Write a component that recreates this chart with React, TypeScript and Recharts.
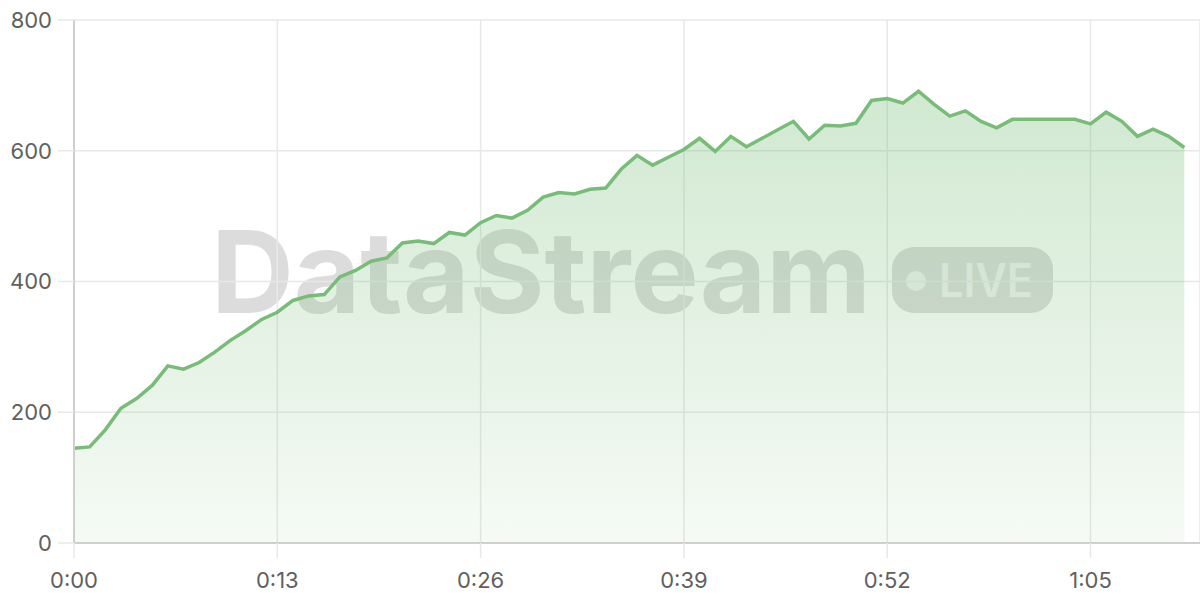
import React from 'react';
import { AreaChart, Area, XAxis, YAxis, CartesianGrid } from 'recharts';

// one reading per second, 0:00 .. 1:11
const values = [
  145, 147, 173, 206, 221, 241, 271, 266, 276, 292, 310, 325,
  342, 353, 371, 378, 380, 407, 417, 431, 436, 459, 462, 458,
  475, 471, 490, 501, 497, 509, 529, 536, 534, 541, 543, 572,
  593, 578, 590, 602, 619, 599, 622, 606, 619, 632, 645, 618,
  639, 638, 642, 677, 680, 673, 691, 671, 653, 661, 645, 635,
  648, 648, 648, 648, 648, 641, 659, 645, 622, 633, 622, 605,
];
const xTicks = [0, 13, 26, 39, 52, 65];
const yTicks = [0, 200, 400, 600, 800];

const data = values.map((v, i) => ({ t: i, value: v }));

const fmtTime = (s: number) => `${Math.floor(s / 60)}:${String(s % 60).padStart(2, '0')}`;

const LINE = '#77bc77';
const FONT = 'Inter, "Noto Sans", sans-serif';

const Watermark: React.FC = () => (
  <svg width={1200} height={600} style={{ position: 'absolute', left: 0, top: 0 }}>
    <text x={211} y={313} fontFamily={FONT} fontWeight={700} fontSize={114}
      fill="#dcdcdc" textLength={660} lengthAdjust="spacingAndGlyphs">DataStream</text>
    <rect x={892} y={247} width={161} height={66} rx={22} fill="#dcdcdc" />
    <circle cx={916} cy={281} r={10} fill="#f2f2f2" />
    <text x={939} y={297} fontFamily={FONT} fontWeight={600} fontSize={46}
      fill="#f2f2f2" textLength={94} lengthAdjust="spacingAndGlyphs">LIVE</text>
  </svg>
);

export default function App() {
  return (
    <div style={{ position: 'fixed', left: 0, top: 0, width: 1200, height: 600, background: '#fff' }}>
      <Watermark />
      <div style={{ position: 'absolute', left: 0, top: 0 }}>
        <AreaChart width={1200} height={600} data={data}
          margin={{ top: 20, right: 0, bottom: 0, left: 0 }}>
          <defs>
            <linearGradient id="fillGreen" x1="0" y1="0" x2="0" y2="1">
              <stop offset="0%" stopColor={LINE} stopOpacity={0.34} />
              <stop offset="100%" stopColor={LINE} stopOpacity={0.07} />
            </linearGradient>
          </defs>
          <CartesianGrid stroke="#e8e8e8" strokeWidth={1.5} />
          <XAxis dataKey="t" type="number" domain={[0, 72]} ticks={xTicks}
            tickFormatter={fmtTime} height={57} tickSize={15} tickMargin={14}
            axisLine={{ stroke: '#cfcfcf', strokeWidth: 2 }}
            tickLine={{ stroke: '#e8e8e8', strokeWidth: 1.5 }}
            tick={{ fill: '#606060', fontSize: 22, fontFamily: FONT }} />
          <YAxis domain={[0, 800]} ticks={yTicks} width={74} tickSize={16} tickMargin={6}
            axisLine={{ stroke: '#cfcfcf', strokeWidth: 2 }}
            tickLine={{ stroke: '#e8e8e8', strokeWidth: 1.5 }}
            tick={{ fill: '#606060', fontSize: 22, fontFamily: FONT }} />
          <Area type="linear" dataKey="value" stroke={LINE} strokeWidth={3.5}
            fill="url(#fillGreen)" fillOpacity={1} isAnimationActive={false} dot={false} />
        </AreaChart>
      </div>
    </div>
  );
}
